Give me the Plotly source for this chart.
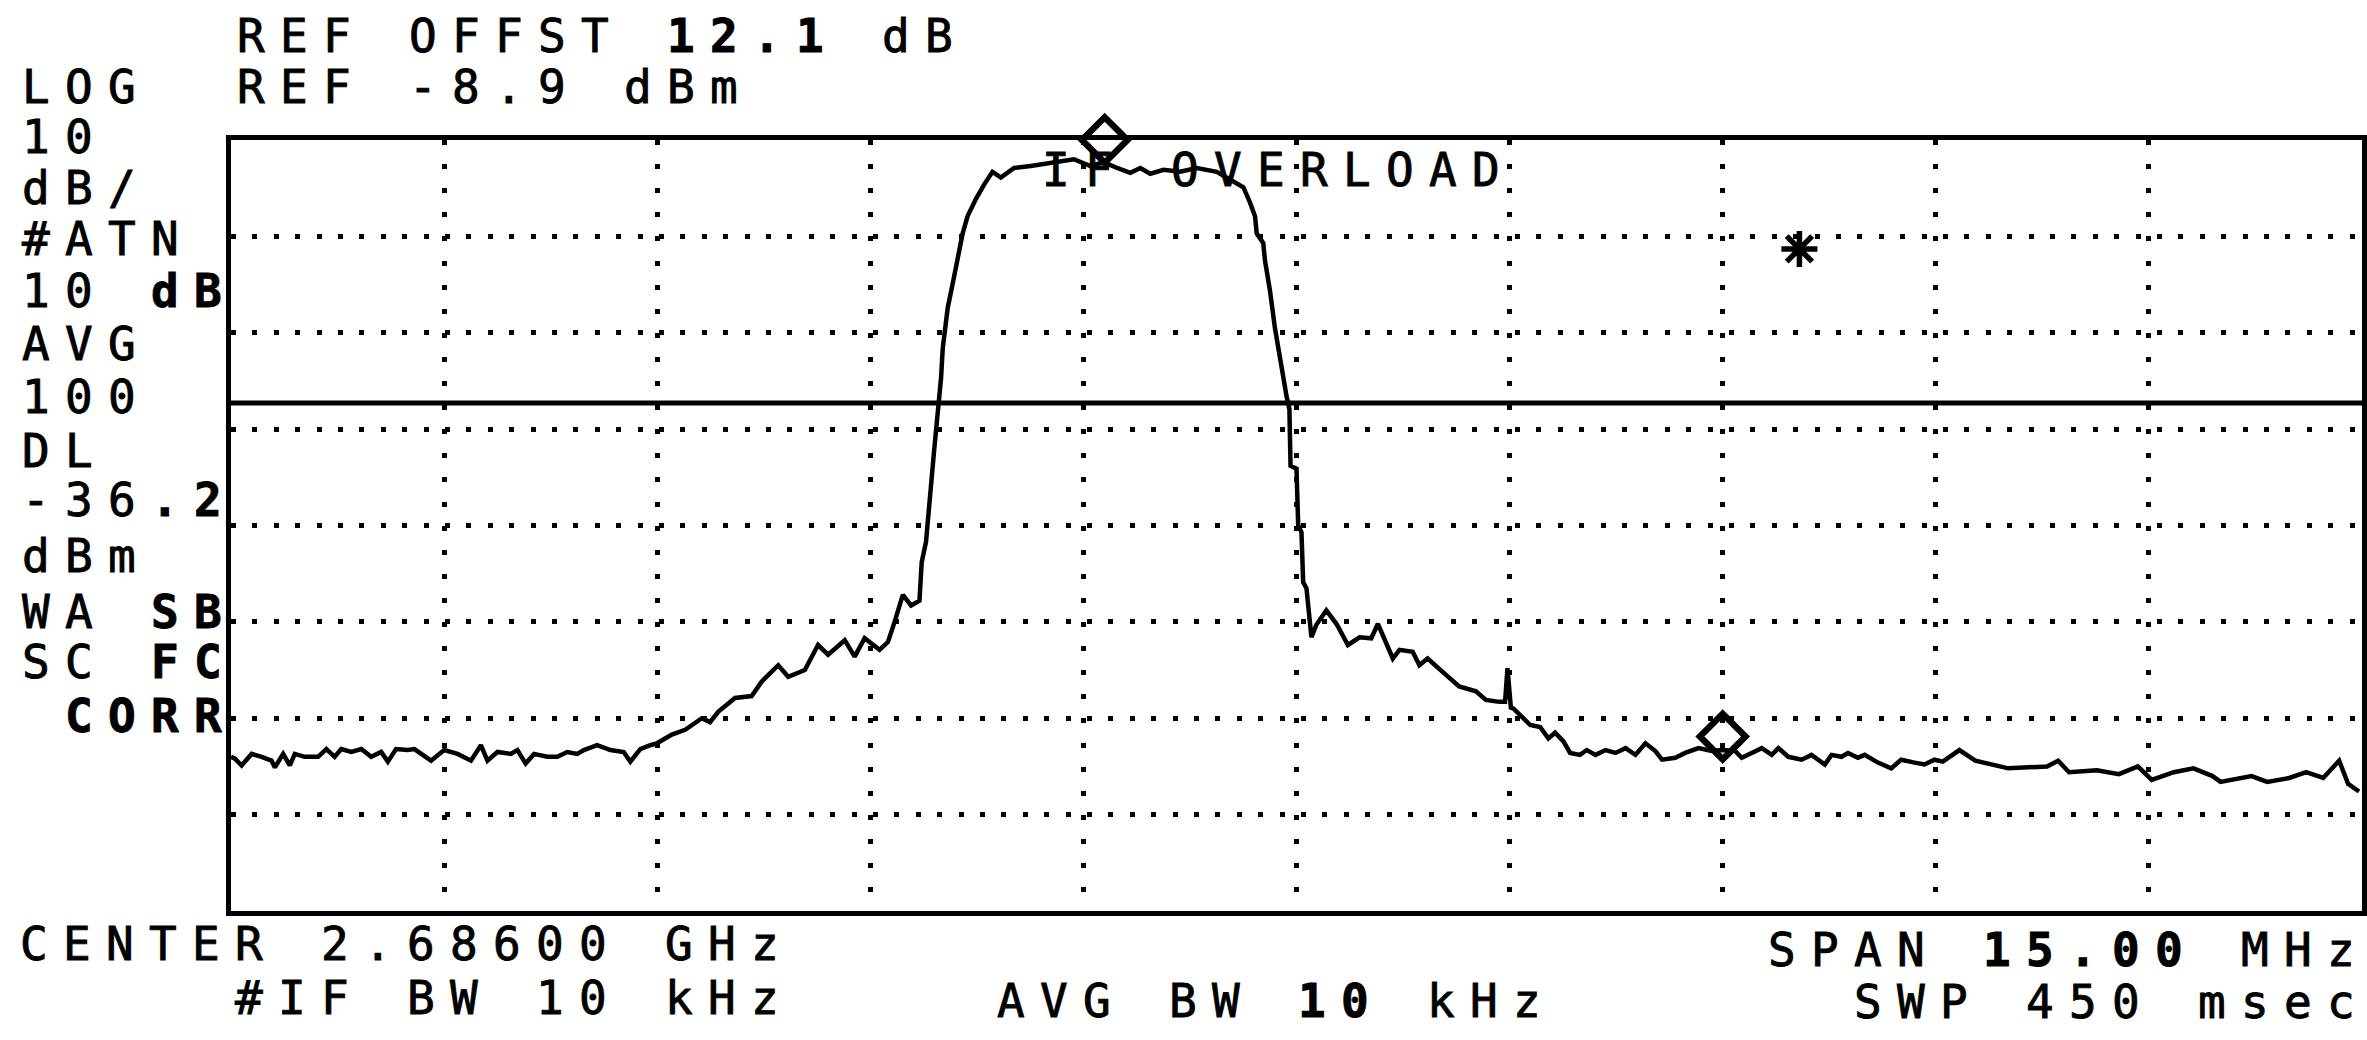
import plotly.graph_objects as go

# Spectrum analyzer screen: center 2.686 GHz, span 15 MHz, 10 dB/div, ref -8.9 dBm
CENTER_GHZ = 2.686
SPAN_MHZ = 15.0
REF_DBM = -8.9
DB_PER_DIV = 10
DISPLAY_LINE_DBM = -36.2

# Trace: frequency offset from center (MHz) and level (dBm)
FREQ_OFFSET_MHZ = [
    -7.500, -7.472, -7.425, -7.355, -7.285, -7.215, -7.191, -7.133, -7.086, -7.051,
    -6.981, -6.887, -6.829, -6.770, -6.724, -6.653, -6.583, -6.513, -6.443, -6.396,
    -6.338, -6.256, -6.209, -6.139, -6.092, -5.999, -5.905, -5.811, -5.741, -5.695,
    -5.624, -5.531, -5.484, -5.426, -5.367, -5.274, -5.203, -5.133, -5.063, -5.016,
    -4.923, -4.829, -4.736, -4.689, -4.619, -4.549, -4.502, -4.397, -4.303, -4.186,
    -4.128, -4.069, -3.952, -3.835, -3.765, -3.648, -3.578, -3.461, -3.368, -3.297,
    -3.180, -3.110, -3.040, -2.935, -2.876, -2.829, -2.771, -2.713, -2.654, -2.638,
    -2.608, -2.550, -2.502, -2.490, -2.455, -2.420, -2.385, -2.350, -2.315, -2.256,
    -2.198, -2.140, -2.081, -1.988, -1.871, -1.777, -1.707, -1.567, -1.450, -1.356,
    -1.263, -1.170, -1.099, -1.029, -0.935, -0.820, -0.702, -0.561, -0.468, -0.374,
    -0.327, -0.292, -0.280, -0.234, -0.222, -0.187, -0.152, -0.105, -0.070, -0.050,
    -0.042, 0.000, 0.012, 0.035, 0.047, 0.070, 0.093, 0.105, 0.140, 0.210,
    0.281, 0.362, 0.444, 0.526, 0.573, 0.631, 0.678, 0.725, 0.818, 0.865,
    0.923, 1.052, 1.145, 1.263, 1.333, 1.427, 1.468, 1.485, 1.509, 1.528,
    1.598, 1.645, 1.715, 1.773, 1.820, 1.879, 1.926, 1.996, 2.043, 2.105,
    2.175, 2.245, 2.316, 2.386, 2.456, 2.526, 2.573, 2.666, 2.736, 2.830,
    2.923, 2.994, 3.087, 3.134, 3.204, 3.275, 3.345, 3.392, 3.462, 3.556,
    3.625, 3.719, 3.766, 3.836, 3.882, 3.952, 3.999, 4.093, 4.186, 4.256,
    4.350, 4.420, 4.491, 4.549, 4.666, 4.778, 5.010, 5.283, 5.361, 5.438,
    5.634, 5.789, 5.922, 6.020, 6.175, 6.314, 6.448, 6.504, 6.722, 6.833,
    6.988, 7.107, 7.227, 7.339, 7.402, 7.479,
]
LEVEL_DBM = [
    -72.9, -73.1, -73.8, -72.6, -72.9, -73.3, -74.0, -72.6, -73.8, -72.6,
    -72.9, -72.9, -72.1, -72.9, -72.1, -72.4, -72.1, -72.9, -72.4, -73.4,
    -72.1, -72.2, -72.1, -72.9, -73.3, -72.2, -72.6, -73.3, -71.7, -73.3,
    -72.4, -72.6, -72.2, -73.6, -72.6, -72.9, -72.9, -72.4, -72.6, -72.2,
    -71.7, -72.2, -72.4, -73.4, -72.1, -71.7, -71.5, -70.6, -70.1, -68.9,
    -69.3, -68.2, -66.8, -66.6, -65.1, -63.4, -64.6, -63.9, -61.3, -62.3,
    -60.8, -62.5, -60.6, -61.8, -61.0, -58.9, -56.1, -57.2, -56.7, -52.7,
    -50.6, -41.0, -33.6, -30.5, -26.3, -23.8, -21.4, -18.6, -16.8, -15.0,
    -13.5, -12.2, -12.8, -11.8, -11.6, -11.4, -11.2, -10.9, -11.6, -11.2,
    -11.8, -12.3, -11.8, -12.4, -12.0, -12.2, -11.8, -12.2, -13.0, -13.8,
    -15.4, -16.8, -18.6, -19.6, -21.4, -24.5, -28.4, -32.6, -35.5, -36.8,
    -42.7, -43.0, -48.9, -49.6, -54.8, -55.4, -59.2, -60.5, -59.2, -57.7,
    -59.1, -61.3, -60.5, -60.6, -59.1, -61.0, -62.7, -61.8, -62.0, -63.4,
    -62.7, -64.4, -65.6, -66.1, -67.0, -67.2, -67.2, -63.7, -67.8, -67.9,
    -68.9, -69.6, -69.8, -71.0, -70.4, -71.3, -72.5, -72.7, -72.2, -72.7,
    -72.2, -72.5, -72.0, -72.7, -71.5, -72.3, -73.2, -73.0, -72.5, -72.0,
    -72.3, -72.2, -72.3, -73.0, -72.5, -72.0, -72.7, -72.0, -72.9, -73.2,
    -72.7, -73.7, -72.7, -72.9, -72.5, -73.0, -72.7, -73.5, -74.1, -73.2,
    -73.5, -73.7, -73.2, -73.4, -72.2, -73.3, -74.1, -73.9, -73.3, -74.5,
    -74.3, -74.7, -73.9, -75.3, -74.5, -74.1, -74.9, -75.5, -74.9, -75.5,
    -75.1, -74.5, -75.1, -73.3, -75.7, -76.5,
]

# Markers: two diamond markers and the asterisk symbol on screen
MARKER_FREQ_MHZ = [-1.35, 3.00]
MARKER_LEVEL_DBM = [-8.9, -70.8]
STAR_FREQ_MHZ = [3.54]
STAR_LEVEL_DBM = [-20.2]

# Screen annotation texts: (text, final character)
TOP_LINES = [("REF OFFST <b>12.1</b> d", "B"), ("REF -8.9 dB", "m")]
LEFT_COLUMN = [
    ("LO", "G"), ("1", "0"), ("dB", "/"), ("#AT", "N"), ("10 <b>d</b>", "<b>B</b>"),
    ("AV", "G"), ("10", "0"), ("D", "L"), ("-36<b>.</b>", "<b>2</b>"), ("dB", "m"),
    ("WA <b>S</b>", "<b>B</b>"), ("SC <b>F</b>", "<b>C</b>"), ("\u00a0<b>COR</b>", "<b>R</b>"),
]
BOTTOM_LEFT = [("CENTER 2.68600 GH", "z"), ("\u00a0\u00a0\u00a0\u00a0\u00a0#IF BW 10 kH", "z")]
BOTTOM_MID = ("AVG BW <b>10</b> kH", "z")
BOTTOM_RIGHT = [("SPAN <b>15.00</b> MH", "z"), ("\u00a0\u00a0SWP 450 mse", "c")]
STATUS_TEXT = ("IF OVERLOA", "D")

# Page geometry (pixels)
W, H = 2367, 1040
L, T, B = 231, 140, 911
PW, PH = W - L, B - T

FONT = "DejaVu Sans Mono"
FS = 46
LS = 15.3  # extra letter spacing so characters sit on a 43 px cell


def px(xp):
    return (xp - L) / PW


def py(yp):
    return (B - yp) / PH


def spaced(parts):
    head, last = parts
    style = f"letter-spacing:{LS}px;stroke:black;stroke-width:0.9px"
    return f'<span style="{style}">{head}</span><span style="stroke:black;stroke-width:0.9px">{last}</span>'


fig = go.Figure()

fig.add_trace(go.Scatter(
    x=FREQ_OFFSET_MHZ, y=LEVEL_DBM, mode="lines",
    line=dict(color="black", width=4.5), hoverinfo="skip", showlegend=False,
))
fig.add_trace(go.Scatter(
    x=MARKER_FREQ_MHZ, y=MARKER_LEVEL_DBM, mode="markers",
    marker=dict(symbol="diamond-open", size=35, color="black", line=dict(width=6.5, color="black")),
    cliponaxis=False, showlegend=False, hoverinfo="skip",
))
fig.add_trace(go.Scatter(
    x=STAR_FREQ_MHZ, y=STAR_LEVEL_DBM, mode="markers",
    marker=dict(symbol="asterisk-open", size=30, color="black", line=dict(width=5.5, color="black")),
    cliponaxis=False, showlegend=False, hoverinfo="skip",
))

# Display line
fig.add_shape(type="line", xref="paper", yref="y", x0=0, x1=1,
              y0=DISPLAY_LINE_DBM, y1=DISPLAY_LINE_DBM,
              line=dict(color="black", width=5))

annotations = []


def add_text(parts, xpix, ypix):
    annotations.append(dict(
        text=spaced(parts), x=px(xpix), y=py(ypix), xref="paper", yref="paper",
        xanchor="left", yanchor="middle", showarrow=False,
        font=dict(family=FONT, size=FS, color="black"),
    ))


add_text(TOP_LINES[0], 235, 36)
add_text(TOP_LINES[1], 235, 87)
left_rows_y = [87, 137, 188, 239, 291, 344, 397, 451, 500, 556, 612, 662, 716]
for s, yy in zip(LEFT_COLUMN, left_rows_y):
    add_text(s, 20, yy)
add_text(BOTTOM_LEFT[0], 17, 944)
add_text(BOTTOM_LEFT[1], 17, 998)
add_text(BOTTOM_MID, 997, 1001)
add_text(BOTTOM_RIGHT[0], 1770, 950)
add_text(BOTTOM_RIGHT[1], 1770, 1002)
add_text(STATUS_TEXT, 1042, 170)

axis_common = dict(
    showgrid=True, gridcolor="black", gridwidth=4.5,
    showline=True, linecolor="black", linewidth=5, mirror=True,
    zeroline=False, showticklabels=False, ticks="", fixedrange=True,
)

fig.update_layout(
    width=W, height=H,
    margin=dict(l=L, r=0, t=T, b=H - B, pad=0),
    paper_bgcolor="white", plot_bgcolor="white",
    xaxis=dict(range=[-SPAN_MHZ / 2, SPAN_MHZ / 2], tick0=-SPAN_MHZ / 2, dtick=SPAN_MHZ / 10,
               griddash="5px,19.1px", **axis_common),
    yaxis=dict(range=[REF_DBM - 8 * DB_PER_DIV, REF_DBM], tick0=REF_DBM, dtick=DB_PER_DIV,
               griddash="5px,16.4px", **axis_common),
    annotations=annotations,
    showlegend=False,
)

fig.write_html("out.html")
